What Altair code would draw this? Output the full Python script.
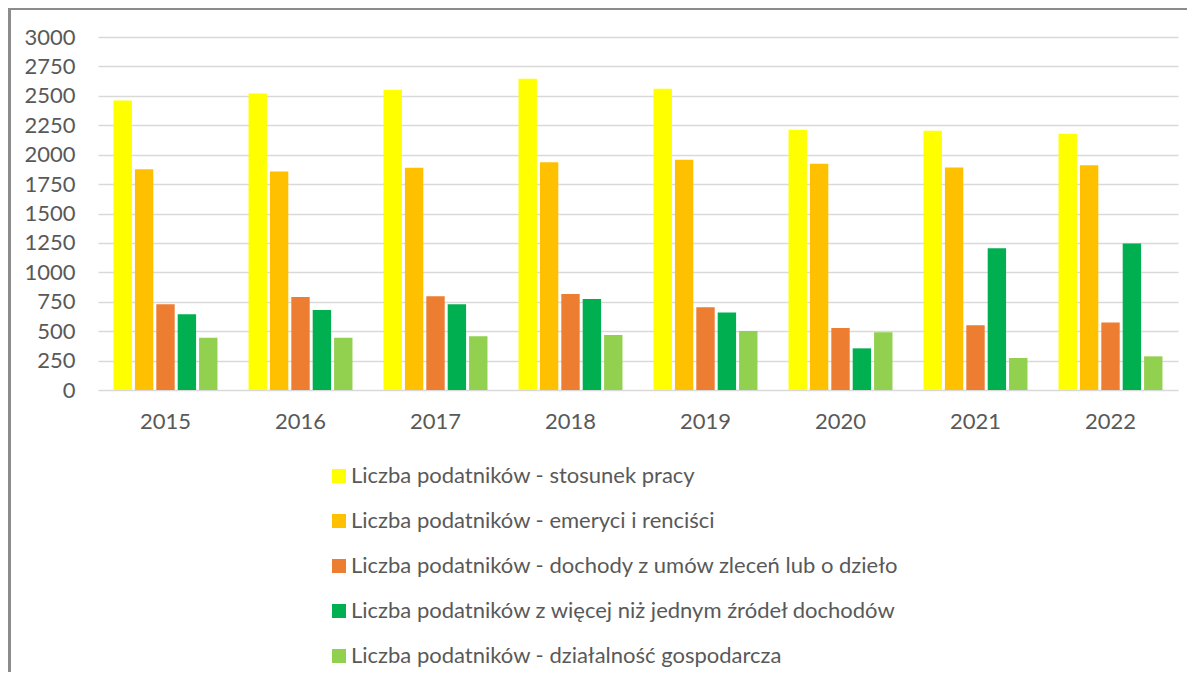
import altair as alt
import pandas as pd

years = ["2015", "2016", "2017", "2018", "2019", "2020", "2021", "2022"]
series = [
    "Liczba podatników - stosunek pracy",
    "Liczba podatników - emeryci i renciści",
    "Liczba podatników - dochody z umów zleceń lub o dzieło",
    "Liczba podatników z więcej niż jednym źródeł dochodów",
    "Liczba podatników - działalność gospodarcza",
]
colors = ["#FFFF00", "#FFC000", "#ED7D31", "#00B050", "#92D050"]

stosunek_pracy = [2461, 2520, 2552, 2645, 2560, 2211, 2203, 2177]
emeryci = [1877, 1857, 1888, 1936, 1956, 1922, 1891, 1911]
umowy = [729, 791, 797, 816, 703, 527, 550, 573]
wiecej_zrodel = [644, 680, 729, 774, 658, 354, 1205, 1245]
dzialalnosc = [445, 445, 456, 468, 502, 490, 272, 286]

values = [stosunek_pracy, emeryci, umowy, wiecej_zrodel, dzialalnosc]
rows = []
for si, s in enumerate(series):
    for yi, y in enumerate(years):
        rows.append({"rok": y, "seria": s, "order": si, "wartosc": values[si][yi]})
df = pd.DataFrame(rows)

FONT = "Lato"
TXT = "#595959"

bars = alt.Chart(df).mark_bar().encode(
    x=alt.X(
        "rok:N",
        sort=years,
        title=None,
        scale=alt.Scale(paddingInner=0.23, paddingOuter=0.115),
        axis=alt.Axis(
            labelAngle=0, labelFont=FONT, labelFontSize=22, labelColor=TXT,
            ticks=False, domain=False, grid=False, labelPadding=31,
            labelBaseline="middle",
        ),
    ),
    xOffset=alt.XOffset("seria:N", sort=series, scale=alt.Scale(paddingInner=0.14)),
    y=alt.Y(
        "wartosc:Q",
        title=None,
        scale=alt.Scale(domain=[0, 3000], nice=False),
        axis=alt.Axis(
            values=list(range(0, 3001, 250)), format="d", labelFont=FONT,
            labelFontSize=22, labelColor=TXT, ticks=False, domain=False,
            labelPadding=23, gridColor="#D9D9D9", gridWidth=1.6,
        ),
    ),
    color=alt.Color(
        "seria:N",
        sort=series,
        scale=alt.Scale(domain=series, range=colors),
        legend=alt.Legend(
            title=None, orient="none", legendX=230, legendY=428,
            direction="vertical", symbolType="square", symbolSize=196,
            symbolStrokeWidth=0, labelFont=FONT, labelFontSize=22,
            labelColor=TXT, rowPadding=23, labelOffset=1, padding=0,
            labelLimit=700,
        ),
    ),
    order=alt.Order("order:Q"),
)

frame_left = alt.Chart(df).mark_rule(color="#8C8C8C", strokeWidth=1.6).encode(
    x=alt.value(-88.5), y=alt.value(-28.5), y2=alt.value(700)
)
frame_top = alt.Chart(df).mark_rule(color="#8C8C8C", strokeWidth=1.6).encode(
    x=alt.value(-89), x2=alt.value(1100), y=alt.value(-28.5)
)

chart = alt.layer(bars, frame_left, frame_top).properties(
    width=1080,
    height=353,
    padding={"left": 90, "top": 29, "right": 9, "bottom": 282},
    autosize=alt.AutoSizeParams(type="none"),
).configure_view(stroke=None)

chart.save("out.html", embed_options={"renderer": "svg", "actions": False})
